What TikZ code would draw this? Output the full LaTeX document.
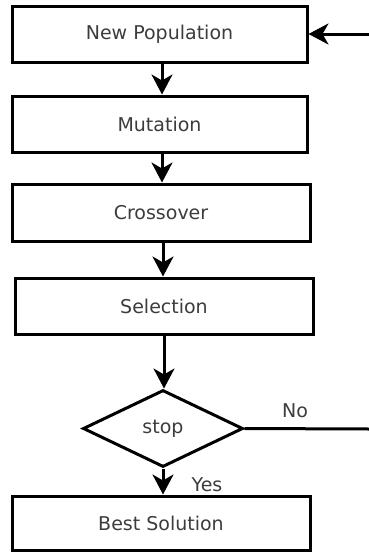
\documentclass[tikz,border=0pt]{standalone}
\usepackage{fontspec}
\setmainfont{DejaVu Sans}
\usetikzlibrary{arrows.meta,shapes.geometric}
\definecolor{txt}{HTML}{3C3C3C}
\begin{document}
\begin{tikzpicture}[x=1pt,y=-1pt,
  box/.style={draw=black,line width=3pt,rectangle,inner sep=0pt,
    font=\fontsize{19}{23}\selectfont,text=txt},
  dec/.style={draw=black,line width=3pt,diamond,inner sep=0pt,aspect=2.08,
    minimum width=160pt,minimum height=77pt,
    font=\fontsize{19}{23}\selectfont,text=txt},
  lab/.style={font=\fontsize{19}{23}\selectfont,text=txt,inner sep=0pt},
  arr/.style={line width=3pt,-{Stealth[length=20pt,width=21pt,inset=6pt]}},
  ln/.style={line width=3pt}]
\useasboundingbox (0,0) rectangle (369,552);
\node[box,minimum width=295pt,minimum height=56pt] (np) at (159.5,34) {New Population};
\node[box,minimum width=295pt,minimum height=56pt] (mu) at (159.5,124) {Mutation};
\node[box,minimum width=298pt,minimum height=57pt] (cr) at (161,212.5) {Crossover};
\node[box,minimum width=298pt,minimum height=56pt] (se) at (164,306) {Selection};
\node[dec] (st) at (163,428.5) {stop};
\node[box,minimum width=298pt,minimum height=54pt] (be) at (161,523) {Best Solution};
\coordinate (inR) at (369,34);
\coordinate (noR) at (369,429);
\draw[arr] ([xshift=2.5pt]np.south) -- ([xshift=2.5pt]mu.north);
\draw[arr] ([xshift=2.5pt]mu.south) -- ([xshift=1pt]cr.north);
\draw[arr] ([xshift=2pt]cr.south) -- ([xshift=-1pt]se.north);
\draw[arr] (se.south) -- ([xshift=1pt]st.north);
\draw[arr] (st.south) -- ([xshift=2pt]be.north);
\draw[arr] (inR) -- (np.east);
\draw[ln] (st.east) -- (noR);
\node[lab] (no) at (295,411) {No};
\node[lab] (yes) at (207,485) {Yes};
\end{tikzpicture}
\end{document}
